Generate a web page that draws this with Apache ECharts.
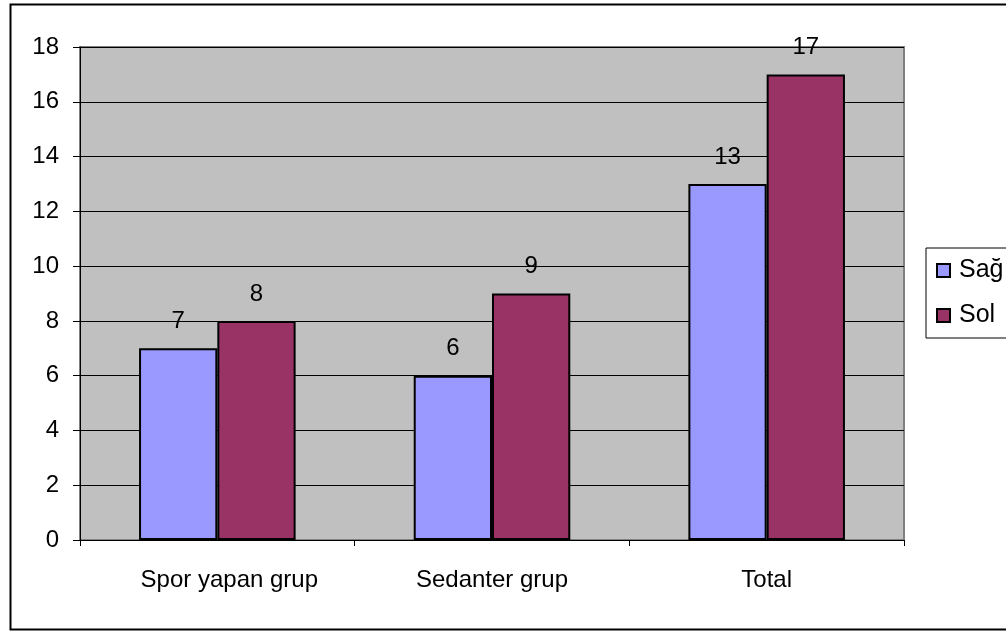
<!DOCTYPE html>
<html>
<head>
<meta charset="utf-8">
<script src="https://cdn.jsdelivr.net/npm/echarts@6/dist/echarts.min.js"></script>
<style>
  html, body { margin: 0; padding: 0; background: #ffffff; }
  #chart { width: 1006px; height: 631px; }
</style>
</head>
<body>
<div id="chart"></div>
<script>
// Groups and counts per side
const categories = ['Spor yapan grup', 'Sedanter grup', 'Total'];
const seriesNames = ['Sağ', 'Sol'];
const sagValues = [7, 6, 13];
const solValues = [8, 9, 17];
const yTicks = { min: 0, max: 18, interval: 2 };

const FONT = '"Liberation Sans", Arial, sans-serif';
const FS = 24;

const chart = echarts.init(document.getElementById('chart'), null, { renderer: 'canvas' });

const grid = { left: 80, top: 47, right: 102, bottom: 91 };

// the first group name sits a little right of its slot
const categoryItems = categories.map((name, i) =>
  i === 0 ? { value: name, textStyle: { padding: [0, 0, 0, 24] } } : name
);

chart.setOption({
  backgroundColor: '#ffffff',
  animation: false,
  textStyle: { fontFamily: FONT, color: '#000' },
  graphic: [
    {
      // outer frame of the chart
      type: 'rect',
      left: 8, top: 2,
      shape: { width: 1010, height: 625 },
      style: { fill: 'none', stroke: '#000', lineWidth: 2 },
      z: -10
    }
  ],
  grid: {
    left: grid.left, top: grid.top, right: grid.right, bottom: grid.bottom,
    show: true,
    backgroundColor: '#c0c0c0',
    borderColor: '#808080',
    borderWidth: 2
  },
  legend: {
    left: 926, top: 248,
    orient: 'vertical',
    data: seriesNames,
    itemWidth: 13, itemHeight: 13,
    itemGap: 20,
    padding: [10, 12, 10, 10],
    borderColor: '#000',
    borderWidth: 1,
    backgroundColor: '#ffffff',
    textStyle: { fontFamily: FONT, fontSize: 25, color: '#000', padding: [0, 0, 0, 4] },
    icon: 'rect'
  },
  xAxis: {
    type: 'category',
    data: categoryItems,
    axisLine: { show: true, lineStyle: { color: '#000', width: 1 } },
    axisTick: { show: true, alignWithLabel: false, length: 6, lineStyle: { color: '#000' } },
    axisLabel: { fontFamily: FONT, fontSize: FS, color: '#000', margin: 28 },
    splitLine: { show: false }
  },
  yAxis: {
    type: 'value',
    min: yTicks.min, max: yTicks.max, interval: yTicks.interval,
    axisLine: { show: true, lineStyle: { color: '#000', width: 1 } },
    axisTick: { show: true, inside: false, length: 7, lineStyle: { color: '#000' } },
    axisLabel: { fontFamily: FONT, fontSize: FS, color: '#000', margin: 21 },
    splitLine: { show: true, lineStyle: { color: '#000', width: 1 } }
  },
  series: [
    {
      name: seriesNames[0],
      type: 'bar',
      data: sagValues,
      barGap: '0%',
      barCategoryGap: '43%',
      itemStyle: { color: '#9999ff', borderColor: '#000', borderWidth: 2 },
      label: { show: true, position: 'top', distance: 15, fontFamily: FONT, fontSize: FS, color: '#000' }
    },
    {
      name: seriesNames[1],
      type: 'bar',
      data: solValues,
      barGap: '0%',
      barCategoryGap: '43%',
      itemStyle: { color: '#993366', borderColor: '#000', borderWidth: 2 },
      label: { show: true, position: 'top', distance: 15, fontFamily: FONT, fontSize: FS, color: '#000' }
    }
  ]
});
</script>
</body>
</html>
